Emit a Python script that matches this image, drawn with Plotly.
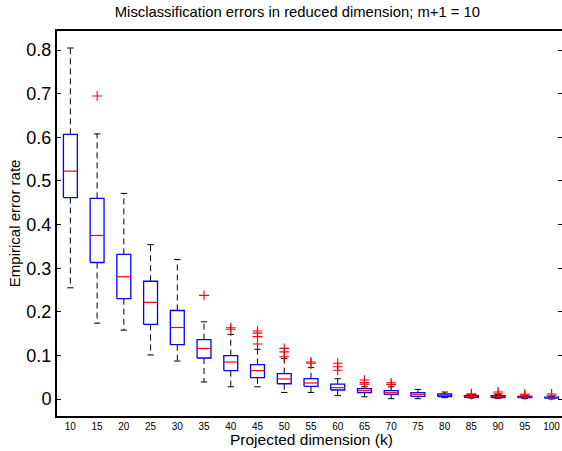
import plotly.graph_objects as go

# ---- data ----
k_values = [10, 15, 20, 25, 30, 35, 40, 45, 50, 55, 60, 65, 70, 75, 80, 85, 90, 95, 100]
lower_whisker = [0.255, 0.174, 0.158, 0.101, 0.087, 0.039, 0.028, 0.028, 0.015, 0.015,
                 0.0077, 0.005, 0.0007, 0.0007, 0.003, 0.002, 0.0015, 0.0012, 0.0]
q1 = [0.462, 0.313, 0.230, 0.171, 0.1245, 0.094, 0.065, 0.049, 0.035, 0.029,
      0.0206, 0.0145, 0.0107, 0.006, 0.0055, 0.0038, 0.0032, 0.003, 0.002]
median = [0.5226, 0.375, 0.2804, 0.2216, 0.164, 0.116, 0.0848, 0.065, 0.046, 0.0367,
          0.026, 0.019, 0.0145, 0.0107, 0.0084, 0.005, 0.0058, 0.0045, 0.003]
q3 = [0.607, 0.460, 0.3316, 0.270, 0.203, 0.136, 0.0993, 0.0787, 0.058, 0.0466,
      0.034, 0.0237, 0.019, 0.0145, 0.0115, 0.0076, 0.0078, 0.006, 0.0045]
upper_whisker = [0.805, 0.608, 0.4715, 0.354, 0.320, 0.177, 0.148, 0.114, 0.093, 0.072,
                 0.0466, 0.028, 0.028, 0.022, 0.016, 0.009, 0.0105, 0.007, 0.006]
outliers = [[], [0.695], [], [], [], [0.2376], [0.1635, 0.160], [0.156, 0.151, 0.143, 0.126],
            [0.116, 0.108, 0.097], [0.085, 0.082], [0.082, 0.074, 0.066],
            [0.0435, 0.038, 0.034], [0.037, 0.033], [], [], [0.012, 0.010],
            [0.016, 0.012], [0.011, 0.0085], [0.0115, 0.0085]]
y_tick_values = [0, 0.1, 0.2, 0.3, 0.4, 0.5, 0.6, 0.7, 0.8]
y_tick_labels = ["0", "0.1", "0.2", "0.3", "0.4", "0.5", "0.6", "0.7", "0.8"]

# ---- build glyph arrays ----
positions = list(range(1, len(k_values) + 1))
hw = 0.26   # box half width
cw = 0.12   # cap half width

bx, by, mx, my, wx, wy, cx, cy, ox, oy = [], [], [], [], [], [], [], [], [], []
for p, lw, a, m, b, uw, outs in zip(positions, lower_whisker, q1, median, q3, upper_whisker, outliers):
    bx += [p - hw, p + hw, p + hw, p - hw, p - hw, None]
    by += [a, a, b, b, a, None]
    mx += [p - hw, p + hw, None]
    my += [m, m, None]
    wx += [p, p, None, p, p, None]
    wy += [b, uw, None, a, lw, None]
    cx += [p - cw, p + cw, None, p - cw, p + cw, None]
    cy += [uw, uw, None, lw, lw, None]
    for o in outs:
        ox.append(p)
        oy.append(o)

fig = go.Figure()
fig.add_trace(go.Scatter(x=wx, y=wy, mode="lines", line=dict(color="black", width=1, dash="6px,4px"),
                         hoverinfo="skip", showlegend=False))
fig.add_trace(go.Scatter(x=cx, y=cy, mode="lines", line=dict(color="black", width=1),
                         hoverinfo="skip", showlegend=False))
fig.add_trace(go.Scatter(x=bx, y=by, mode="lines", line=dict(color="#0000ff", width=1.3),
                         hoverinfo="skip", showlegend=False))
fig.add_trace(go.Scatter(x=mx, y=my, mode="lines", line=dict(color="#ff0000", width=1.2),
                         hoverinfo="skip", showlegend=False))
fig.add_trace(go.Scatter(x=ox, y=oy, mode="markers",
                         marker=dict(symbol="cross-thin", size=7, line=dict(color="#ff0000", width=1.1)),
                         hoverinfo="skip", showlegend=False))
fig.add_trace(go.Scatter(x=[None], y=[None], yaxis="y2", showlegend=False, hoverinfo="skip"))

FONT = "Liberation Sans, Arial, Helvetica, sans-serif"
yr = [-0.039, 0.844]

fig.update_layout(
    width=562, height=451,
    margin=dict(l=57, r=0, t=31, b=35),
    paper_bgcolor="white", plot_bgcolor="white",
    font=dict(family=FONT, color="black"),
    showlegend=False,
    xaxis=dict(range=[0.5, 19.39], tickvals=positions, ticktext=[str(v) for v in k_values],
               ticks="", showline=True, linecolor="black", linewidth=2, mirror=True,
               showgrid=False, zeroline=False, tickfont=dict(size=10, family=FONT)),
    yaxis=dict(range=yr, tickvals=y_tick_values, ticktext=y_tick_labels,
               ticks="inside", ticklen=4, tickwidth=1, tickcolor="black",
               showline=True, linecolor="black", linewidth=2,
               showgrid=False, zeroline=False, tickfont=dict(size=18, family=FONT)),
    yaxis2=dict(range=yr, overlaying="y", side="right", tickvals=y_tick_values,
                ticks="inside", ticklen=4, tickwidth=1, tickcolor="black",
                showticklabels=False, showline=False, showgrid=False, zeroline=False),
    title=dict(text="Misclassification errors in reduced dimension; m+1 = 10",
               x=0.476, xref="paper", xanchor="center", y=1 - 12 / 451, yref="container",
               yanchor="middle", font=dict(size=14.8, family=FONT)),
    annotations=[
        dict(text="Projected dimension (k)", x=0.503, y=-0.0623, xref="paper", yref="paper",
             xanchor="center", yanchor="middle", showarrow=False, font=dict(size=15.5, family=FONT)),
        dict(text="Empirical error rate", x=-0.0851, y=0.501, xref="paper", yref="paper",
             xanchor="center", yanchor="middle", textangle=-90, showarrow=False,
             font=dict(size=15, family=FONT)),
    ],
)

fig.write_html("out.html")
